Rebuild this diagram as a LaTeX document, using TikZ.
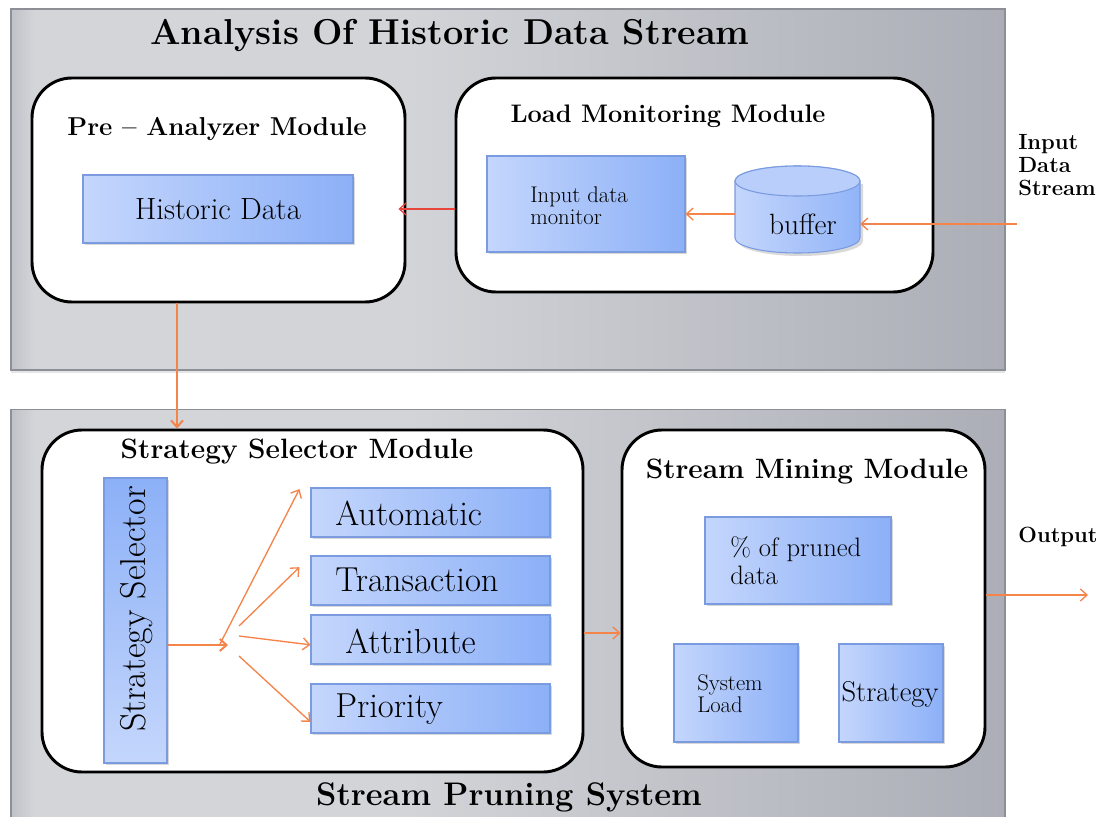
\documentclass[tikz,border=0pt]{standalone}
\usetikzlibrary{arrows.meta,shadows,calc}
\definecolor{panelE}{HTML}{BFC2C7}
\definecolor{panelL}{HTML}{D3D5D9}
\definecolor{panelM}{HTML}{D2D4D8}
\definecolor{panelR}{HTML}{ABAEB6}
\definecolor{panelB}{HTML}{8C8F95}
\definecolor{blueL}{HTML}{C4D6FC}
\definecolor{blueR}{HTML}{8CB0F7}
\definecolor{blueB}{HTML}{7A9BE0}
\definecolor{orng}{HTML}{F5844A}
\definecolor{redar}{HTML}{E8453C}
\pgfdeclarehorizontalshading{panelsh}{100bp}{color(0bp)=(panelE); color(25bp)=(panelE); color(26.2bp)=(panelL); color(45bp)=(panelM); color(75bp)=(panelR); color(100bp)=(panelR)}
\tikzset{
  panel/.style={draw=panelB, line width=0.8pt, shading=panelsh, inner sep=0pt,
     drop shadow={shadow xshift=0pt, shadow yshift=-2pt, opacity=0.2}},
  module/.style={draw=black, line width=2.2pt, fill=white, rounded corners=30pt, inner sep=0pt},
  bluebox/.style={draw=blueB, line width=0.8pt, left color=blueL, right color=blueR, inner sep=0pt,
     drop shadow={shadow xshift=1.8pt, shadow yshift=-1.8pt, opacity=0.3}},
  boxtext/.style={font=\fontsize{26}{28}\selectfont, anchor=west, inner sep=0pt},
  oarrow/.style={draw=orng, line width=1pt, -{Straight Barb[length=5pt,width=9pt]}},
  rarrow/.style={draw=redar, line width=1pt, -{Straight Barb[length=5pt,width=9pt]}},
}
\begin{document}
\begin{tikzpicture}[x=0.75pt,y=-0.75pt]
\useasboundingbox (0,0) rectangle (1107,817);
\fill[white] (0,0) rectangle (1107,817);
% panels
\node[panel, minimum width=745.5pt, minimum height=270.75pt] (top) at (508,189.5) {};
\node[panel, minimum width=745.5pt, minimum height=310pt] (bot) at (508,616) {};
\node[font=\bfseries\fontsize{27}{29}\selectfont] (ttl) at (450,36) {Analysis Of Historic Data Stream};
\node[font=\bfseries\fontsize{24.5}{27}\selectfont] (spt) at (509,797) {Stream Pruning System};
% Pre-analyzer
\node[module, minimum width=279.75pt, minimum height=168pt] (pre) at (218.5,190) {};
\node[font=\bfseries\fontsize{19.4}{21}\selectfont] (pret) at (217,129) {Pre -- Analyzer Module};
\node[bluebox, minimum width=202.5pt, minimum height=51pt, font=\fontsize{23}{25}\selectfont] (hd) at (218,209) {Historic Data};
% Load monitoring
\node[module, minimum width=357.75pt, minimum height=160.5pt] (load) at (694.5,185) {};
\node[font=\bfseries\fontsize{19}{21}\selectfont] (loadt) at (668,116) {Load Monitoring Module};
\node[bluebox, minimum width=148.5pt, minimum height=72pt] (mon) at (586,204) {};
\node[font=\fontsize{17}{16.5}\selectfont, align=left, anchor=west, inner sep=0pt] (mont) at (530,206) {Input data\\monitor};
% buffer cylinder
\node[minimum width=93.75pt, minimum height=65.25pt, inner sep=0pt] (buf) at (797.5,209.5) {};
\fill[black, opacity=0.15] (738,184) -- (738,241) arc[start angle=180,end angle=360,x radius=46.875pt,y radius=11.25pt] -- (863,184) -- cycle;
\draw[draw=blueB, line width=0.8pt, left color=blueL, right color=blueR!90!blueL] (735,181) -- (735,238) arc[start angle=180,end angle=360,x radius=46.875pt,y radius=11.25pt] -- (860,181) arc[start angle=0,end angle=180,x radius=46.875pt,y radius=11.25pt] -- cycle;
\draw[draw=blueB, line width=0.8pt, fill=blueL!80!blueR] (797.5,181) ellipse[x radius=46.875pt, y radius=11.25pt];
\node[font=\fontsize{22}{24}\selectfont] (buft) at (803,224) {buffer};
% input label
\node[font=\bfseries\fontsize{16.5}{17.25}\selectfont, align=left, anchor=north west, inner sep=0pt] (inl) at (1018,134) {Input\\Data\\Stream};
\coordinate (inS) at (1017,224);
% top connectors
\draw[oarrow] (inS) -- (inS -| buf.east);
\draw[oarrow] ([yshift=-3.4pt]buf.west) -- ([yshift=-3.4pt]buf.west -| mon.east);
\draw[rarrow] (load.west |- hd) -- ([xshift=-6pt]pre.east |- hd);
% Strategy selector module
\node[module, minimum width=405.75pt, minimum height=256.5pt] (strat) at (312.5,601) {};
\coordinate (vd) at ([xshift=-31.1pt]pre.south);
\draw[orng, line width=1.5pt, -{Straight Barb[length=5pt,width=9pt]}] (vd) -- (vd |- strat.north);
\node[font=\bfseries\fontsize{21}{23}\selectfont] (stratt) at (297,452) {Strategy Selector Module};
\node[bluebox, minimum width=47.25pt, minimum height=213.75pt, top color=blueR, bottom color=blueL] (sel) at (135.5,620.5) {};
\node[rotate=90, font=\fontsize{27}{29}\selectfont] (selt) at (137,609) {Strategy Selector};
\node[bluebox, minimum width=179.25pt, minimum height=36.75pt] (aut) at (430.5,512.5) {};
\node[bluebox, minimum width=179.25pt, minimum height=36.75pt] (tra) at (430.5,580.5) {};
\node[bluebox, minimum width=179.25pt, minimum height=36.75pt] (att) at (430.5,639.5) {};
\node[bluebox, minimum width=179.25pt, minimum height=36.75pt] (pri) at (430.5,708.5) {};
\node[boxtext] (autt) at (335,513) {Automatic};
\node[boxtext] (trat) at (335,580) {Transaction};
\node[boxtext] (attt) at (345,641) {Attribute};
\node[boxtext] (prit) at (335,709) {Priority};
\coordinate (fan) at (228,645);
\coordinate (f1) at (220,644);
\coordinate (f2) at (239,626);
\coordinate (f3) at (239,636);
\coordinate (f4) at (239,656);
\draw[oarrow, line width=1.5pt] (sel.east |- fan) -- (fan);
\draw[oarrow] (f1) -- ([xshift=-8.25pt,yshift=17.6pt]aut.west);
\draw[oarrow] (f2) -- ([xshift=-8.25pt,yshift=10pt]tra.west);
\draw[oarrow] (f3) -- ([yshift=-4pt]att.west);
\draw[oarrow] (f4) -- ([yshift=-10pt]pri.west);
% Stream mining
\node[module, minimum width=272.25pt, minimum height=252.75pt] (mine) at (803.5,598.5) {};
\node[font=\bfseries\fontsize{21}{23}\selectfont] (minet) at (807,472) {Stream Mining Module};
\node[bluebox, minimum width=139.5pt, minimum height=65.25pt] (prn) at (798,560.5) {};
\node[font=\fontsize{20}{21}\selectfont, align=left, anchor=west, inner sep=0pt] (prnt) at (730,561) {\% of pruned\\data};
\node[bluebox, minimum width=93pt, minimum height=73.5pt] (sysl) at (736,693) {};
\node[font=\fontsize{17}{16.5}\selectfont, align=left, anchor=west, inner sep=0pt] (syslt) at (697,694) {System\\Load};
\node[bluebox, minimum width=78pt, minimum height=73.5pt] (stg) at (891,693) {};
\node[font=\fontsize{21.5}{23}\selectfont] (stgt) at (890,694) {Strategy};
\draw[oarrow] ([yshift=-24pt]strat.east) -- ([yshift=-24pt]strat.east -| mine.west);
\coordinate (out) at (1088,595);
\draw[oarrow] (mine.east |- out) -- (out);
\node[font=\bfseries\fontsize{16.5}{18}\selectfont] (outl) at (1058,537) {Output};
\end{tikzpicture}
\end{document}
